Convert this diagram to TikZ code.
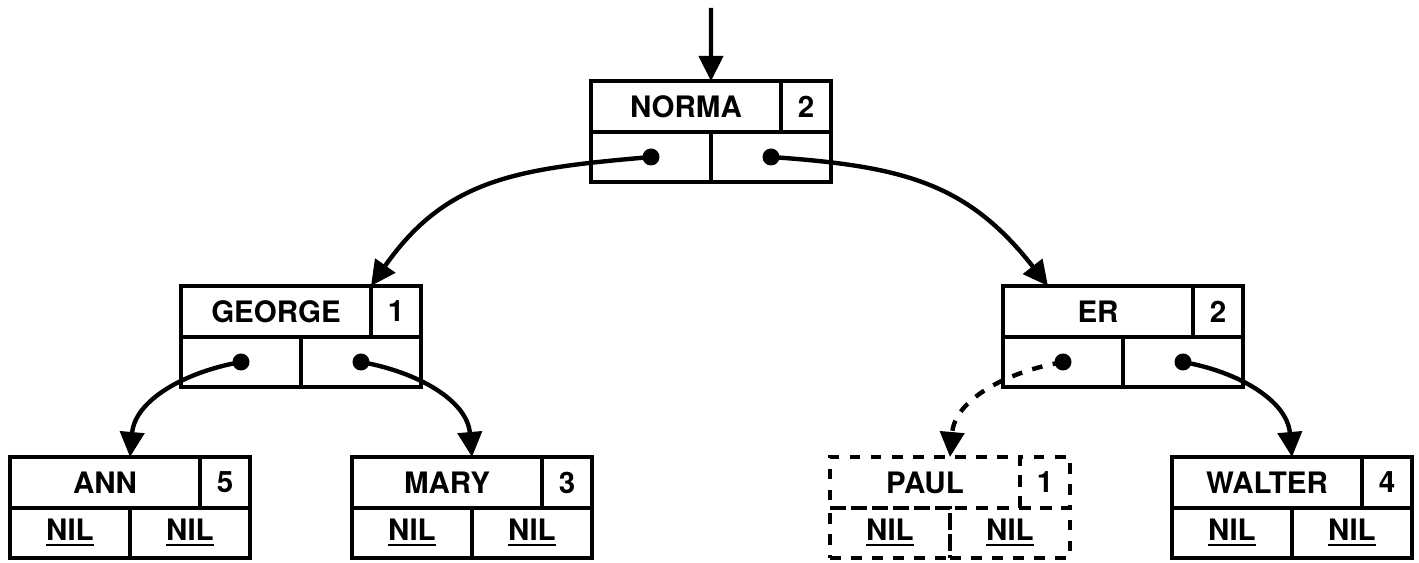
\documentclass[tikz,border=0pt]{standalone}
\usepackage{fontspec}
\setmainfont{TeX Gyre Heros}
\usetikzlibrary{arrows.meta,positioning}

\begin{document}
\begin{tikzpicture}[line width=1.25pt,
  every node/.style={draw, inner sep=0pt, outer sep=0pt, minimum height=0.51cm,
    font=\fontsize{8.4}{9}\selectfont\bfseries},
  namecell/.style={minimum width=1.9cm},
  cntcell/.style={minimum width=0.5cm},
  ptrcell/.style={minimum width=1.2cm, minimum height=0.5cm},
  link/.style={-{Triangle[length=0.25cm,width=0.24cm]}}]
  \useasboundingbox (0,0) rectangle (14.19,5.63);
  % inner records
  \foreach \id/\x/\y/\lbl/\cnt in {norma/5.91/4.82/NORMA/2, george/1.81/2.77/GEORGE/1, er/10.03/2.77/ER/2} {
    \node[namecell, anchor=north west] (\id-n) at (\x,\y) {\lbl};
    \node[cntcell, right=0pt of \id-n] (\id-c) {\cnt};
    \node[ptrcell, anchor=north west] (\id-l) at (\id-n.south west) {};
    \node[ptrcell, right=0pt of \id-l] (\id-r) {};
    \coordinate (\id-top) at (\id-l.north east |- \id-n.north);
    \fill (\id-l.center) circle (0.085);
    \fill (\id-r.center) circle (0.085);
  }
  % leaves
  \foreach \id/\x/\lbl/\cnt/\ls in {ann/0.10/ANN/5/solid, mary/3.52/MARY/3/solid, paul/8.30/PAUL/1/dashed, walter/11.72/WALTER/4/solid} {
    \node[namecell, \ls, anchor=north west] (\id-n) at (\x,1.06) {\lbl};
    \node[cntcell, \ls, right=0pt of \id-n] (\id-c) {\cnt};
    \node[ptrcell, \ls, anchor=north west] (\id-l) at (\id-n.south west) {\underline{NIL}};
    \node[ptrcell, \ls, right=0pt of \id-l] (\id-r) {\underline{NIL}};
    \coordinate (\id-top) at (\id-l.north east |- \id-n.north);
  }
  \coordinate (entry) at (7.11,5.55);
  \draw[link] (entry) -- (norma-top);
  \draw[link] (norma-l.center) to[out=185, in=55, looseness=1.1] (george-n.north east);
  \draw[link] (norma-r.center) to[out=-4, in=128, looseness=1.1] ([xshift=0.45cm]er-n.north west);
  \draw[link] (george-l.center) to[out=190, in=85] (ann-top);
  \draw[link] (george-r.center) to[out=-10, in=95] (mary-top);
  \draw[link, dashed] (er-l.center) to[out=190, in=85] (paul-top);
  \draw[link] (er-r.center) to[out=-10, in=95] (walter-top);
\end{tikzpicture}
\end{document}
